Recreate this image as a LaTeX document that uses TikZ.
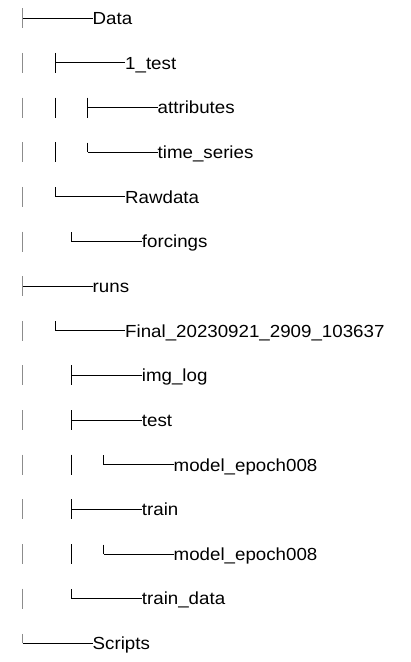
\documentclass[tikz,border=0pt]{standalone}
\usepackage{fontspec}
\setmainfont[FakeStretch=1.07]{Liberation Sans}
\usetikzlibrary{calc}
\definecolor{rootgray}{RGB}{140,140,140}
\begin{document}
\begin{tikzpicture}[x=1pt,y=-1pt,
  lbl/.style={anchor=west, inner sep=0pt, text height=12.6pt, text depth=0pt, font=\fontsize{17.5}{20}\selectfont},
  branch/.style={line width=0.9pt, black},
  rootbar/.style={line width=1.3pt, rootgray},
  bar/.style={line width=0.9pt, black}]
\useasboundingbox (0,0) rectangle (411,662);

% joints (column, row)
\coordinate (j0)  at (22.5,18.3);
\coordinate (j1)  at (55,62.9);
\coordinate (j2)  at (87.5,107.6);
\coordinate (j3)  at (87.5,152.2);
\coordinate (j4)  at (55,196.9);
\coordinate (j5)  at (71.7,241.5);
\coordinate (j6)  at (22.5,286.1);
\coordinate (j7)  at (55,330.8);
\coordinate (j8)  at (71.7,375.4);
\coordinate (j9)  at (71.7,420.1);
\coordinate (j10) at (103.5,464.7);
\coordinate (j11) at (71.7,509.3);
\coordinate (j12) at (103.5,554.0);
\coordinate (j13) at (71.7,598.6);
\coordinate (j14) at (22.5,643.3);

% labels
\node[lbl] (t0)  at ($(j0)+(70,0)$)  {Data};
\node[lbl] (t1)  at ($(j1)+(70,0)$)  {1\_test};
\node[lbl] (t2)  at ($(j2)+(70,0)$)  {attributes};
\node[lbl] (t3)  at ($(j3)+(70,0)$)  {time\_series};
\node[lbl] (t4)  at ($(j4)+(70,0)$)  {Rawdata};
\node[lbl] (t5)  at ($(j5)+(70,0)$)  {forcings};
\node[lbl] (t6)  at ($(j6)+(70,0)$)  {runs};
\node[lbl] (t7)  at ($(j7)+(70,0)$)  {Final\_20230921\_2909\_103637};
\node[lbl] (t8)  at ($(j8)+(70,0)$)  {img\_log};
\node[lbl] (t9)  at ($(j9)+(70,0)$)  {test};
\node[lbl] (t10) at ($(j10)+(70,0)$) {model\_epoch008};
\node[lbl] (t11) at ($(j11)+(70,0)$) {train};
\node[lbl] (t12) at ($(j12)+(70,0)$) {model\_epoch008};
\node[lbl] (t13) at ($(j13)+(70,0)$) {train\_data};
\node[lbl] (t14) at ($(j14)+(70,0)$) {Scripts};

% horizontal branches
\foreach \i in {0,...,14} \draw[branch] (j\i) -- (t\i.west);

% tee verticals
\draw[rootbar] ($(j0)+(0,-10)$) -- ($(j0)+(0,10)$);
\draw[rootbar] ($(j6)+(0,-10)$) -- ($(j6)+(0,10)$);
\foreach \i in {1,2,8,9,11} \draw[bar] ($(j\i)+(0,-10)$) -- ($(j\i)+(0,10)$);

% corner verticals
\draw[rootbar] ($(j14)+(0,-9.5)$) -- (j14);
\foreach \i in {3,4,5,7,10,12,13} \draw[bar] ($(j\i)+(0,-9.5)$) -- (j\i);

% continuation bars of the root column
\foreach \y in {62.9,107.6,152.2,196.9,241.5,330.8,375.4,420.1,464.7,509.3,554.0,598.6}
  \draw[rootbar] (22.5,\y-10) -- (22.5,\y+10);
% continuation bars of inner columns
\foreach \y in {107.6,152.2} \draw[bar] (55,\y-10) -- (55,\y+10);
\foreach \y in {464.7,554.0} \draw[bar] (71.7,\y-10) -- (71.7,\y+10);
\end{tikzpicture}
\end{document}
